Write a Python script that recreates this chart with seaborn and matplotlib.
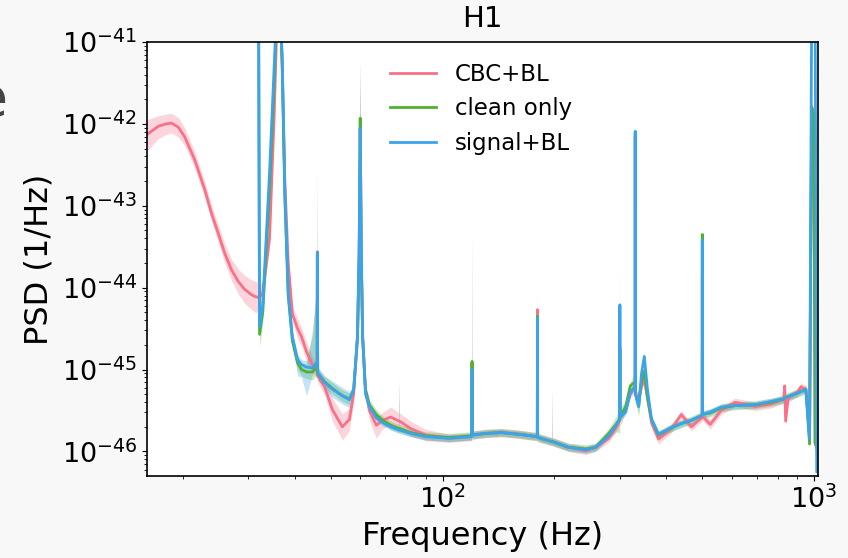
import numpy as np
import pandas as pd
import matplotlib
matplotlib.use("Agg")
import matplotlib.pyplot as plt
import seaborn as sns

N = np.nan

# ---- data (frequency in Hz, PSD as log10 of 1/Hz) ----
freq_hz = [
    16.0, 17.16, 18.0, 18.64, 19.42, 20.2, 21.52, 22.9, 23.86, 24.86,
    25.91, 27.0, 28.13, 29.3, 30.56, 31.3, 31.95, 32.15, 32.8, 34.2,
    35.2, 36.2, 37.0, 37.6, 38.4, 39.4, 40.7, 41.7, 43.0, 44.6,
    45.5, 45.95, 46.0, 46.1, 48.1, 50.5, 53.7, 56.1, 57.6, 59.0,
    59.6, 60.0, 60.4, 60.9, 62.0, 63.5, 66.3, 69.0, 72.5, 76.25,
    76.4, 76.55, 82.0, 90.0, 104.0, 119.8, 120.0, 120.2, 131.0, 144.0,
    160.0, 179.8, 180.0, 180.2, 196.7, 197.0, 197.3, 218.0, 243.0, 258.0,
    280.0, 294.0, 299.7, 300.0, 300.3, 311.0, 320.0, 329.7, 330.0, 330.3,
    337.0, 343.0, 349.0, 356.0, 365.0, 381.0, 413.0, 439.0, 467.0, 494.0,
    499.6, 500.0, 500.4, 525.0, 562.0, 613.0, 694.0, 766.0, 828.0, 833.0,
    838.0, 851.0, 900.0, 922.0, 950.0, 972.0, 985.0, 998.0, 1006.0, 1016.0,
    1024.0,
]

cbc_log10psd = [
    -42.13, -42.03, -42.00, -41.99, -42.04, -42.155, -42.44, -42.805, -43.09, -43.33,
    -43.58, -43.78, -43.92, -44.02, -44.085, -44.11, -44.12, -44.12, -44.06, -43.40,
    -41.90, -40.00, -41.30, -42.70, -43.70, -44.32, -44.50, -44.60, -44.78, -44.94,
    -45.00, -45.02, -43.56, -45.08, -45.21, -45.49, -45.70, -45.61, -45.30, -44.60,
    -43.60, -42.05, -43.60, -44.60, -45.25, -45.50, -45.68, -45.62, -45.58, -45.63,
    -45.63, -45.63, -45.72, -45.80, -45.84, -45.82, -44.92, -45.80, -45.78, -45.77,
    -45.79, -45.82, -44.27, -45.83, -45.88, -45.88, -45.88, -45.95, -45.99, -45.95,
    -45.84, -45.70, -45.62, -44.72, -45.58, -45.48, -45.30, -45.22, -42.15, -45.30,
    -45.35, -45.20, -45.12, -45.35, -45.65, -45.85, -45.72, -45.55, -45.70, -45.60,
    -45.58, -43.84, -45.57, -45.67, -45.50, -45.40, -45.45, -45.42, -45.36, -45.20,
    -45.63, -45.35, -45.28, -45.21, -45.25, -45.80, -41.79, -41.90, -45.90, -45.95,
    -46.00,
]

clean_log10psd = [
    N, N, N, N, N, N, N, N, N, N,
    N, N, N, N, N, N, -40.30, -44.57, -44.30, -42.80,
    -41.50, -40.00, -41.30, -42.90, -44.10, -44.65, -44.92, -45.00, -45.03, -45.03,
    -44.98, -44.97, -43.62, -45.05, -45.15, -45.23, -45.32, -45.36, -45.25, -44.60,
    -43.60, -41.93, -43.60, -44.60, -45.25, -45.43, -45.55, -45.62, -45.68, -45.72,
    -45.72, -45.72, -45.77, -45.81, -45.83, -45.81, -44.90, -45.80, -45.78, -45.77,
    -45.79, -45.82, -44.35, -45.83, -45.88, -45.88, -45.88, -45.95, -45.97, -45.95,
    -45.78, -45.66, -45.60, -44.76, -45.58, -45.45, -45.20, -45.15, -42.10, -45.30,
    -45.45, -45.15, -45.02, -45.35, -45.61, -45.80, -45.71, -45.66, -45.62, -45.57,
    -45.56, -43.35, -45.55, -45.53, -45.47, -45.44, -45.43, -45.40, -45.36, -45.35,
    -45.34, -45.33, -45.29, -45.27, -45.24, -45.91, -41.80, -41.90, -45.90, -45.95,
    -46.00,
]

signal_log10psd = [
    N, N, N, N, N, N, N, N, N, N,
    N, N, N, N, N, N, -40.30, -44.48, -44.20, -42.60,
    -41.30, -40.00, -41.20, -42.80, -44.05, -44.60, -44.88, -44.94, -44.97, -44.98,
    -44.93, -44.92, -43.57, -45.04, -45.16, -45.24, -45.32, -45.37, -45.25, -44.60,
    -43.60, -42.05, -43.60, -44.60, -45.30, -45.45, -45.59, -45.65, -45.70, -45.74,
    -45.74, -45.74, -45.78, -45.82, -45.84, -45.82, -45.00, -45.80, -45.78, -45.77,
    -45.79, -45.82, -44.37, -45.83, -45.88, -45.88, -45.88, -45.95, -45.98, -45.95,
    -45.81, -45.67, -45.60, -44.21, -45.58, -45.52, -45.28, -45.20, -42.09, -45.30,
    -45.45, -45.05, -44.84, -45.25, -45.61, -45.79, -45.71, -45.66, -45.62, -45.57,
    -45.56, -43.42, -45.55, -45.52, -45.46, -45.44, -45.43, -45.39, -45.36, -45.35,
    -45.34, -45.33, -45.29, -45.27, -45.24, -45.85, -40.50, -40.50, -40.50, -46.25,
    -46.25,
]

# uncertainty band extent below / above the line, in decades
cbc_band_lo = [
    0.20, 0.15, 0.13, 0.12, 0.12, 0.11, 0.10, 0.10, 0.10, 0.11,
    0.12, 0.13, 0.15, 0.17, 0.18, 0.19, 0.18, 0.16, 0.14, 0.08,
    0.08, 0.08, 0.08, 0.08, 0.08, 0.10, 0.12, 0.12, 0.12, 0.10,
    0.08, 0.08, 0.08, 0.08, 0.10, 0.14, 0.16, 0.14, 0.10, 0.06,
    0.06, 0.06, 0.06, 0.06, 0.08, 0.12, 0.16, 0.10, 0.10, 0.10,
    0.10, 0.10, 0.09, 0.07, 0.05, 0.05, 0.05, 0.05, 0.05, 0.05,
    0.05, 0.05, 0.05, 0.05, 0.05, 0.05, 0.05, 0.05, 0.05, 0.05,
    0.05, 0.05, 0.05, 0.05, 0.05, 0.05, 0.05, 0.05, 0.05, 0.05,
    0.06, 0.06, 0.06, 0.06, 0.05, 0.06, 0.05, 0.05, 0.05, 0.05,
    0.05, 0.05, 0.05, 0.06, 0.05, 0.05, 0.05, 0.05, 0.05, 0.06,
    0.06, 0.05, 0.05, 0.05, 0.05, 0.06, 0.05, 0.05, 0.05, 0.05,
    0.05,
]
cbc_band_hi = [
    0.18, 0.13, 0.12, 0.12, 0.12, 0.11, 0.10, 0.10, 0.10, 0.11,
    0.12, 0.13, 0.15, 0.17, 0.18, 0.19, 0.18, 0.16, 0.14, 0.08,
    0.08, 0.08, 0.08, 0.08, 0.08, 0.10, 0.12, 0.12, 0.12, 0.10,
    0.08, 0.08, 1.00, 0.08, 0.10, 0.14, 0.16, 0.14, 0.10, 0.06,
    0.06, 0.79, 0.06, 0.06, 0.08, 0.12, 0.08, 0.10, 0.12, 0.10,
    0.55, 0.10, 0.09, 0.07, 0.05, 0.05, 1.57, 0.05, 0.05, 0.05,
    0.05, 0.05, 0.25, 0.05, 0.05, 0.64, 0.05, 0.05, 0.05, 0.05,
    0.05, 0.05, 0.05, 0.50, 0.05, 0.05, 0.05, 0.05, 0.05, 0.05,
    0.06, 0.06, 0.06, 0.06, 0.05, 0.06, 0.05, 0.05, 0.05, 0.05,
    0.05, 0.05, 0.05, 0.06, 0.05, 0.05, 0.05, 0.05, 0.05, 0.06,
    0.06, 0.05, 0.05, 0.05, 0.05, 0.06, 0.05, 0.05, 0.05, 0.05,
    0.05,
]
clean_band_lo = [
    N, N, N, N, N, N, N, N, N, N,
    N, N, N, N, N, N, 0.05, 0.16, 0.12, 0.06,
    0.06, 0.06, 0.06, 0.06, 0.06, 0.08, 0.08, 0.08, 0.08, 0.10,
    0.10, 0.08, 0.08, 0.08, 0.07, 0.07, 0.07, 0.07, 0.06, 0.05,
    0.05, 0.05, 0.05, 0.05, 0.05, 0.06, 0.06, 0.05, 0.05, 0.05,
    0.05, 0.05, 0.05, 0.05, 0.05, 0.05, 0.05, 0.05, 0.05, 0.05,
    0.05, 0.05, 0.05, 0.05, 0.05, 0.05, 0.05, 0.05, 0.05, 0.05,
    0.06, 0.10, 0.18, 0.18, 0.12, 0.06, 0.05, 0.12, 0.12, 0.10,
    0.12, 0.06, 0.05, 0.05, 0.05, 0.05, 0.05, 0.05, 0.05, 0.05,
    0.05, 0.05, 0.05, 0.05, 0.05, 0.05, 0.05, 0.05, 0.05, 0.05,
    0.05, 0.05, 0.05, 0.05, 0.05, 0.05, 0.05, 0.05, 0.05, 0.05,
    0.05,
]
clean_band_hi = [
    N, N, N, N, N, N, N, N, N, N,
    N, N, N, N, N, N, 0.05, 0.16, 0.12, 0.06,
    0.06, 0.06, 0.06, 0.06, 0.06, 0.08, 0.08, 0.08, 0.10, 0.50,
    0.87, 0.87, 1.00, 0.08, 0.07, 0.07, 0.07, 0.07, 0.06, 0.05,
    0.05, 0.67, 0.05, 0.05, 0.05, 0.06, 0.06, 0.05, 0.05, 0.05,
    0.55, 0.05, 0.05, 0.05, 0.05, 0.05, 1.55, 0.05, 0.05, 0.05,
    0.05, 0.05, 0.25, 0.05, 0.05, 0.64, 0.05, 0.05, 0.05, 0.05,
    0.06, 0.10, 0.18, 0.50, 0.12, 0.06, 0.05, 0.12, 0.12, 0.10,
    0.12, 0.06, 0.05, 0.05, 0.05, 0.05, 0.05, 0.05, 0.05, 0.05,
    0.05, 0.05, 0.05, 0.05, 0.05, 0.05, 0.05, 0.05, 0.05, 0.05,
    0.05, 0.05, 0.05, 0.05, 0.05, 0.05, 0.05, 0.05, 0.05, 0.05,
    0.05,
]
signal_band_lo = [
    N, N, N, N, N, N, N, N, N, N,
    N, N, N, N, N, N, 0.05, 0.12, 0.10, 0.05,
    0.05, 0.05, 0.05, 0.05, 0.05, 0.10, 0.20, 0.15, 0.35, 0.08,
    0.08, 0.06, 0.06, 0.06, 0.08, 0.10, 0.10, 0.10, 0.06, 0.04,
    0.04, 0.04, 0.04, 0.04, 0.04, 0.04, 0.04, 0.04, 0.04, 0.04,
    0.04, 0.04, 0.04, 0.04, 0.04, 0.04, 0.04, 0.04, 0.04, 0.04,
    0.04, 0.04, 0.04, 0.04, 0.04, 0.04, 0.04, 0.04, 0.04, 0.04,
    0.04, 0.04, 0.04, 0.04, 0.04, 0.04, 0.04, 0.04, 0.04, 0.04,
    0.08, 0.04, 0.04, 0.04, 0.04, 0.04, 0.04, 0.04, 0.04, 0.04,
    0.04, 0.04, 0.04, 0.04, 0.04, 0.04, 0.04, 0.04, 0.04, 0.04,
    0.04, 0.04, 0.04, 0.04, 0.04, 0.05, 0.04, 0.04, 0.04, 0.04,
    0.04,
]
signal_band_hi = [
    N, N, N, N, N, N, N, N, N, N,
    N, N, N, N, N, N, 0.05, 0.12, 0.10, 0.05,
    0.05, 0.05, 0.05, 0.05, 0.05, 0.06, 0.06, 0.06, 0.08, 0.40,
    0.80, 0.80, 1.00, 0.06, 0.08, 0.10, 0.10, 0.10, 0.06, 0.04,
    0.04, 0.79, 0.04, 0.04, 0.04, 0.04, 0.04, 0.04, 0.04, 0.04,
    0.55, 0.04, 0.04, 0.04, 0.04, 0.04, 1.57, 0.04, 0.04, 0.04,
    0.04, 0.04, 0.25, 0.04, 0.04, 0.64, 0.04, 0.04, 0.04, 0.04,
    0.04, 0.04, 0.04, 0.86, 0.04, 0.04, 0.04, 0.04, 0.04, 0.04,
    0.08, 0.04, 0.04, 0.04, 0.04, 0.04, 0.04, 0.04, 0.04, 0.04,
    0.04, 0.04, 0.04, 0.04, 0.04, 0.04, 0.04, 0.04, 0.04, 0.04,
    0.04, 0.04, 0.04, 0.04, 0.04, 0.05, 0.04, 0.04, 0.04, 0.04,
    0.04,
]

series_names = ["CBC+BL", "clean only", "signal+BL"]
title_text = "H1"
x_label = "Frequency (Hz)"
y_label = "PSD (1/Hz)"

# ---- build long-form table ----
freq = np.array(freq_hz)
values = {"CBC+BL": cbc_log10psd, "clean only": clean_log10psd, "signal+BL": signal_log10psd}
lows = {"CBC+BL": cbc_band_lo, "clean only": clean_band_lo, "signal+BL": signal_band_lo}
highs = {"CBC+BL": cbc_band_hi, "clean only": clean_band_hi, "signal+BL": signal_band_hi}

frames = []
for name in series_names:
    v = np.array(values[name], dtype=float)
    frames.append(pd.DataFrame({
        "freq": freq,
        "psd": 10.0 ** v,
        "lower": 10.0 ** (v - np.array(lows[name], dtype=float)),
        "upper": 10.0 ** (v + np.array(highs[name], dtype=float)),
        "series": name,
    }))
df = pd.concat(frames, ignore_index=True).dropna()

palette = dict(zip(series_names, sns.color_palette("husl", 3)))

bg = "#f8f8f8"
fig = plt.figure(figsize=(8.48, 5.58), dpi=100, facecolor=bg)
ax = fig.add_axes([0.1733, 0.147, 0.7913, 0.7777])
ax.set_facecolor("white")

for name in series_names:
    sub = df[df["series"] == name]
    ax.fill_between(sub["freq"], sub["lower"], sub["upper"],
                    color=palette[name], alpha=0.3, linewidth=0)

sns.lineplot(data=df, x="freq", y="psd", hue="series", hue_order=series_names,
             palette=palette, estimator=None, errorbar=None, linewidth=2.0,
             ax=ax)

ax.set_xscale("log")
ax.set_yscale("log")
ax.set_xlim(16, 1024)
ax.set_ylim(10 ** -46.30, 1e-41)

ax.set_title(title_text, fontsize=21, pad=11)
ax.set_xlabel(x_label, fontsize=23, labelpad=5)
ax.set_ylabel(y_label, fontsize=23, labelpad=5)
ax.tick_params(axis="both", which="major", labelsize=19.5)
for s in ax.spines.values():
    s.set_linewidth(1.2)
    s.set_color("black")

sns.move_legend(ax, loc="upper left", bbox_to_anchor=(0.332, 1.0),
                frameon=False, fontsize=16.5, title=None)

fig.text(0.0094, 0.82, "e", fontsize=40, ha="right", va="center", color="#444444")

fig.savefig("out.png", dpi=100, facecolor=bg)
